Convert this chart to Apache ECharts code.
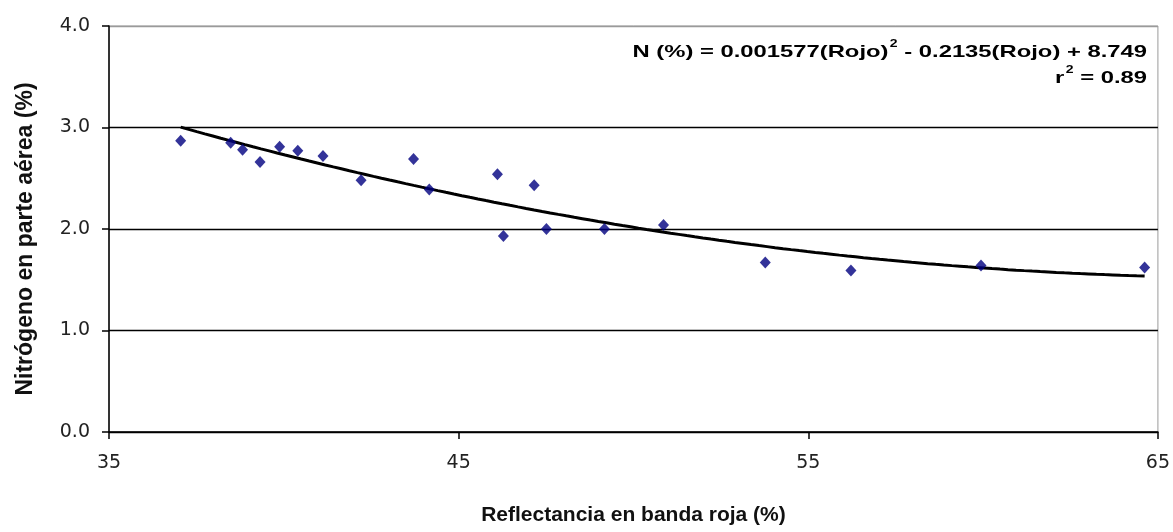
<!DOCTYPE html>
<html>
<head>
<meta charset="utf-8">
<script src="https://cdn.jsdelivr.net/npm/echarts@6/dist/echarts.min.js"></script>
<style>
  html, body { margin: 0; padding: 0; background: #fff; }
  #chart { width: 1173px; height: 532px; }
</style>
</head>
<body>
<div id="chart"></div>
<script>
// Red-band reflectance (%) of each sample
const reflectance = [37.05, 38.48, 38.82, 39.32, 39.88, 40.40, 41.12, 42.21, 43.71, 44.16,
                     46.11, 46.28, 47.16, 47.51, 49.17, 50.86, 53.77, 56.22, 59.94, 64.62];
// Above-ground nitrogen (%) of each sample
const nitrogen = [2.87, 2.85, 2.78, 2.66, 2.81, 2.77, 2.72, 2.48, 2.69, 2.39,
                  2.54, 1.93, 2.43, 2.00, 2.00, 2.04, 1.67, 1.59, 1.64, 1.62];
// Quadratic fit N = a*R^2 + b*R + c, as given in the equation label
const fitCoefficients = [0.001577, -0.2135, 8.749];
const rSquared = 0.89;
const yTicks = ['0.0', '1.0', '2.0', '3.0', '4.0'];
const xTicks = [35, 45, 55, 65];

const FONT = '"Liberation Sans", Arial, sans-serif';
const TICK_FONT = '"DejaVu Sans", "Liberation Sans", sans-serif';

const points = reflectance.map((r, i) => [r, nitrogen[i]]);

// Fitted curve sampled across the observed reflectance range
const rMin = Math.min(...reflectance);
const rMax = Math.max(...reflectance);
const fitCurve = [];
for (let k = 0; k <= 120; k++) {
  const r = rMin + (rMax - rMin) * k / 120;
  const [a, b, c] = fitCoefficients;
  fitCurve.push([r, a * r * r + b * r + c]);
}

const chart = echarts.init(document.getElementById('chart'), null, { renderer: 'canvas' });

chart.setOption({
  animation: false,
  backgroundColor: '#fff',
  grid: {
    left: 109, right: 13, top: 26, bottom: 100,
    show: true, borderColor: '#9a9a9a', borderWidth: 1, backgroundColor: '#fff'
  },
  xAxis: {
    type: 'value',
    min: xTicks[0], max: xTicks[xTicks.length - 1], interval: 10,
    name: 'Reflectancia en banda roja (%)',
    nameLocation: 'middle', nameGap: 73,
    nameTextStyle: { fontFamily: FONT, fontWeight: 'bold', fontSize: 21, color: '#111' },
    axisLine: { show: true, onZero: false, lineStyle: { color: '#000', width: 1.5 } },
    axisTick: { show: true, inside: false, length: 7, lineStyle: { color: '#000', width: 1.5 } },
    axisLabel: { fontFamily: TICK_FONT, fontSize: 19, color: '#222', margin: 22 },
    splitLine: { show: false }
  },
  yAxis: {
    type: 'value',
    min: 0, max: 4, interval: 1,
    name: 'Nitrógeno en parte aérea (%)',
    nameLocation: 'middle', nameGap: 72, nameRotate: 90,
    nameTextStyle: {
      fontFamily: FONT, fontWeight: 'bold', fontSize: 23, color: '#111',
      padding: [0, 20, 0, 0]
    },
    axisLine: { show: true, lineStyle: { color: '#000', width: 1.5 } },
    axisTick: { show: true, inside: false, length: 7, lineStyle: { color: '#000', width: 1.5 } },
    axisLabel: {
      fontFamily: TICK_FONT, fontSize: 19, color: '#222', margin: 19,
      formatter: v => yTicks[Math.round(v)]
    },
    splitLine: {
      show: true,
      lineStyle: { color: ['#000', '#000', '#000', '#000', '#9a9a9a'], width: 1.3 }
    }
  },
  graphic: [{
    type: 'text',
    x: 1147, y: 39,
    scaleX: 1.4, scaleY: 1,
    style: {
      text: '{b|N (%) = 0.001577(Rojo)}{s|2}{b| - 0.2135(Rojo) + 8.749}\n{b|r}{s|2}{b| = ' + rSquared.toFixed(2) + '}',
      align: 'right',
      verticalAlign: 'top',
      rich: {
        b: { fontFamily: FONT, fontWeight: 'bold', fontSize: 17, color: '#000', lineHeight: 26 },
        s: { fontFamily: FONT, fontWeight: 'bold', fontSize: 10, color: '#000', verticalAlign: 'top', padding: [0, 0, 9, 1], lineHeight: 26 }
      }
    },
    z: 10
  }],
  series: [
    {
      type: 'line',
      data: fitCurve,
      showSymbol: false,
      smooth: false,
      lineStyle: { color: '#000', width: 3 },
      z: 3
    },
    {
      type: 'scatter',
      data: points,
      symbol: 'diamond',
      symbolSize: [11, 12],
      itemStyle: { color: '#000080' },
      z: 4
    }
  ]
});
</script>
</body>
</html>
